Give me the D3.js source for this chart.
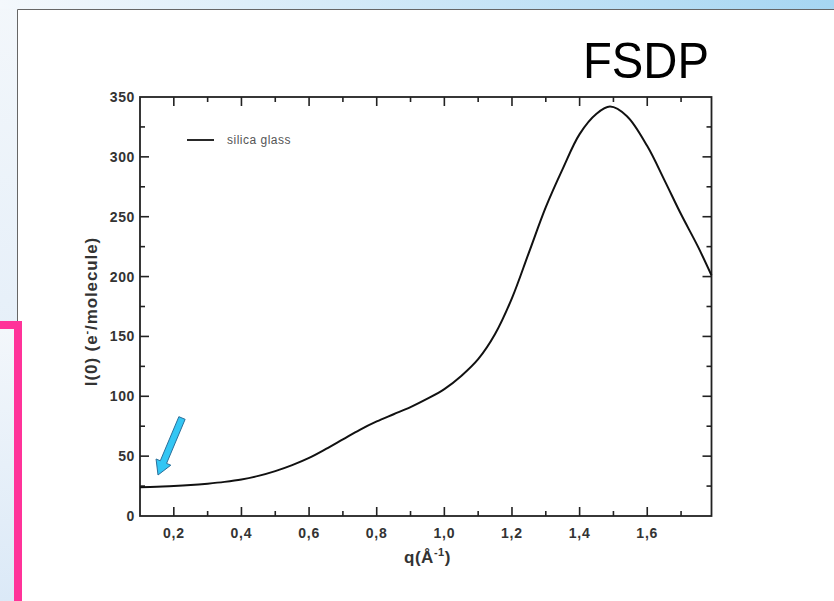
<!DOCTYPE html>
<html><head><meta charset="utf-8">
<script src="https://cdn.jsdelivr.net/npm/d3@7"></script>
<style>html,body{margin:0;padding:0;background:#fff;}svg{display:block;}</style>
</head><body>
<svg id="c" width="834" height="601"></svg>
<script>
const qValues = [0.10,0.15,0.20,0.25,0.30,0.35,0.40,0.45,0.50,0.55,0.60,0.65,0.70,0.75,0.80,0.85,0.90,0.95,1.00,1.05,1.10,1.15,1.20,1.25,1.30,1.35,1.40,1.45,1.49,1.54,1.60,1.65,1.70,1.75,1.79];
const iValues = [24,24.5,25,25.8,27,28.5,30.5,33.5,37.5,42.5,48.5,56,64,72,79,85,91,98,106,117,131,152,182,220,258,290,319,336,342,334,309,281,252,225,201];
const xTickLabels = ["0,2","0,4","0,6","0,8","1,0","1,2","1,4","1,6"];
const xTickValues = [0.2,0.4,0.6,0.8,1.0,1.2,1.4,1.6];
const yTickValues = [0,50,100,150,200,250,300,350];
const seriesName = "silica glass";
const chartTitle = "FSDP";

const svg = d3.select("#c");
const defs = svg.append("defs");
const g1 = defs.append("linearGradient").attr("id","topg").attr("x1",0).attr("x2",1).attr("y1",0).attr("y2",0);
g1.append("stop").attr("offset","0%").attr("stop-color","#f4f8fc");
g1.append("stop").attr("offset","100%").attr("stop-color","#a6d6f2");
const g2 = defs.append("linearGradient").attr("id","leftg").attr("x1",0).attr("x2",0).attr("y1",0).attr("y2",1);
g2.append("stop").attr("offset","0%").attr("stop-color","#f3f7fb");
g2.append("stop").attr("offset","100%").attr("stop-color","#dbe9f7");

// slide background
svg.append("rect").attr("x",0).attr("y",0).attr("width",834).attr("height",601).attr("fill","url(#leftg)");
svg.append("rect").attr("x",0).attr("y",0).attr("width",834).attr("height",9).attr("fill","url(#topg)");
svg.append("rect").attr("x",17).attr("y",9).attr("width",817).attr("height",592).attr("fill","#fff");
svg.append("path").attr("d","M17.5,601 V9.5 H834").attr("fill","none").attr("stroke","#666").attr("stroke-width",1);
// pink frame
svg.append("rect").attr("x",0).attr("y",321).attr("width",22).attr("height",8).attr("fill","#ff3399");
svg.append("rect").attr("x",14).attr("y",321).attr("width",8).attr("height",280).attr("fill","#ff3399");
svg.append("rect").attr("x",0).attr("y",329).attr("width",14).attr("height",272).attr("fill","url(#leftg)");

// title
svg.append("text").attr("x",583).attr("y",78)
  .attr("font-family","Liberation Sans, Arial, sans-serif").attr("font-size",50).attr("fill","#000")
  .attr("textLength",126).attr("lengthAdjust","spacingAndGlyphs").text(chartTitle);

const L=140, R=711.5, T=97, B=516;
const x = d3.scaleLinear().domain([0.1,1.79]).range([L,R]);
const y = d3.scaleLinear().domain([0,350]).range([B,T]);
const font = "Liberation Sans, Arial, sans-serif";
const axisColor = "#222";

const plot = svg.append("g");
// ticks (inward, mirrored)
const xMinor = d3.range(0.2,1.75,0.1).map(v=>+v.toFixed(2));
const yMinor = d3.range(0,351,25);
xMinor.forEach(v=>{
  const major = xTickValues.some(t=>Math.abs(t-v)<1e-6);
  const len = major?9:5;
  plot.append("line").attr("x1",x(v)).attr("x2",x(v)).attr("y1",B).attr("y2",B-len).attr("stroke",axisColor).attr("stroke-width",1.6);
  plot.append("line").attr("x1",x(v)).attr("x2",x(v)).attr("y1",T).attr("y2",T+len).attr("stroke",axisColor).attr("stroke-width",1.6);
});
yMinor.forEach(v=>{
  if(v===0||v===350) return;
  const major = yTickValues.includes(v);
  const len = major?9:5;
  plot.append("line").attr("x1",L).attr("x2",L+len).attr("y1",y(v)).attr("y2",y(v)).attr("stroke",axisColor).attr("stroke-width",1.6);
  plot.append("line").attr("x1",R).attr("x2",R-len).attr("y1",y(v)).attr("y2",y(v)).attr("stroke",axisColor).attr("stroke-width",1.6);
});
plot.append("rect").attr("x",L).attr("y",T).attr("width",R-L).attr("height",B-T).attr("fill","none").attr("stroke",axisColor).attr("stroke-width",1.8);

// tick labels
xTickValues.forEach((v,i)=>{
  plot.append("text").attr("x",x(v)).attr("y",B+22).attr("text-anchor","middle")
    .attr("font-family",font).attr("font-weight","bold").attr("font-size",14).attr("letter-spacing",0.8).attr("fill","#333").text(xTickLabels[i]);
});
yTickValues.forEach(v=>{
  plot.append("text").attr("x",L-5).attr("y",y(v)+5).attr("text-anchor","end")
    .attr("font-family",font).attr("font-weight","bold").attr("font-size",14).attr("letter-spacing",0.6).attr("fill","#333").text(v);
});

// axis titles
const xt = plot.append("text").attr("x",x(0.95)).attr("y",563).attr("text-anchor","middle")
  .attr("font-family",font).attr("font-weight","bold").attr("font-size",17).attr("letter-spacing",0.5).attr("fill","#333");
xt.append("tspan").text("q(Å");
xt.append("tspan").attr("dy",-7).attr("font-size",11).text("-1");
xt.append("tspan").attr("dy",7).text(")");

const yt = plot.append("text").attr("transform",`translate(97,${(T+B)/2+5}) rotate(-90)`).attr("text-anchor","middle")
  .attr("font-family",font).attr("font-weight","bold").attr("font-size",17).attr("letter-spacing",0.9).attr("fill","#333");
yt.append("tspan").text("I(0) (e");
yt.append("tspan").attr("dy",-7).attr("font-size",11).text("-");
yt.append("tspan").attr("dy",7).text("/molecule)");

// legend
plot.append("line").attr("x1",187).attr("x2",214).attr("y1",140).attr("y2",140).attr("stroke","#111").attr("stroke-width",1.8);
plot.append("text").attr("x",227).attr("y",144).attr("font-family",font).attr("font-size",12).attr("letter-spacing",0.5).attr("fill","#555").text(seriesName);

// curve
const data = qValues.map((q,i)=>({q, v:iValues[i]}));
plot.append("path").datum(data).attr("fill","none").attr("stroke","#111").attr("stroke-width",2)
  .attr("d", d3.line().x(d=>x(d.q)).y(d=>y(d.v)).curve(d3.curveCatmullRom.alpha(0.5)));

// blue arrow
const tail=[182,418], tip=[158,475];
const dx=tip[0]-tail[0], dy=tip[1]-tail[1], len=Math.hypot(dx,dy);
const ux=dx/len, uy=dy/len, px=-uy, py=ux;
const headLen=14, sw=3.4, hw=8;
const bx=tip[0]-ux*headLen, by=tip[1]-uy*headLen;
const pts=[
  [tail[0]+px*sw, tail[1]+py*sw],
  [bx+px*sw, by+py*sw],
  [bx+px*hw, by+py*hw],
  tip,
  [bx-px*hw, by-py*hw],
  [bx-px*sw, by-py*sw],
  [tail[0]-px*sw, tail[1]-py*sw]
];
svg.append("path").attr("d","M"+pts.map(p=>p.join(",")).join("L")+"Z")
  .attr("fill","#33c6f4").attr("stroke","#2a6f9a").attr("stroke-width",1);
</script>
</body></html>
